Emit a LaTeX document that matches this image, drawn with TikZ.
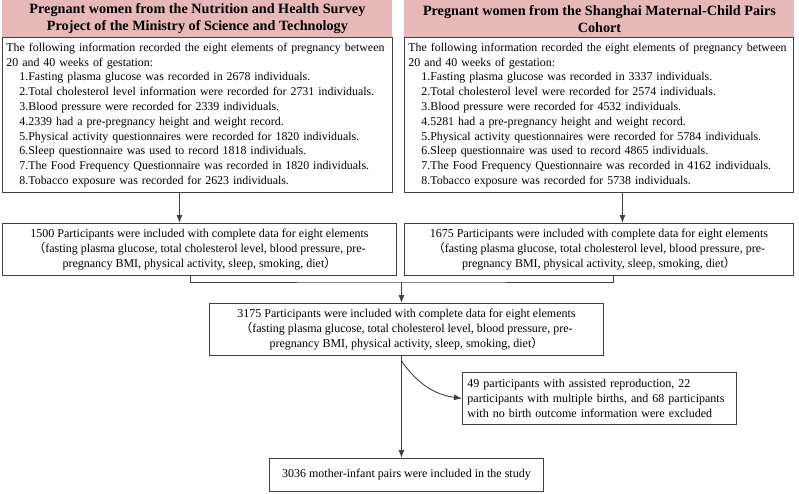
\documentclass[tikz,border=0pt]{standalone}
\usepackage{fontspec}
\setmainfont{Liberation Serif}
\newfontfamily\cjk{Noto Sans CJK SC}
\usetikzlibrary{arrows.meta, positioning}
\definecolor{headpink}{HTML}{E6B9B8}
\definecolor{boxline}{HTML}{404040}
\newcommand{\lpar}{{\cjk （}}
\newcommand{\rpar}{{\cjk ）}}
\newcommand{\itm}{\hspace*{13pt}}

\begin{document}
\begin{tikzpicture}[x=1pt, y=-1pt,
			>={Latex[length=8pt, width=6pt]},
			line width=0.9pt,
			box/.style={draw=boxline, rectangle, anchor=north west, inner sep=4pt},
			head/.style={fill=headpink, anchor=north west, align=center, inner sep=0pt,
				minimum width=390pt, minimum height=37pt,
				font=\bfseries\fontsize{14.2}{17}\selectfont},
			info/.style={box, align=left, inner ysep=2pt, inner xsep=4pt, text width=382pt,
				minimum width=390pt, minimum height=155pt, font=\fontsize{11.9}{14.8}\selectfont},
			incl/.style={box, align=center, minimum height=52pt,
				font=\fontsize{12}{15}\selectfont},
			conn/.style={draw=boxline}]
			
			\useasboundingbox (0,0) rectangle (799,493);
			
			% two source cohorts
			\node[head] (headL) at (2,0) {Pregnant women from the Nutrition and Health Survey\\Project of the Ministry of Science and Technology};
			\node[info] (infoL) at (2,37) {\mbox{The following information recorded the eight elements of pregnancy between}\\
				20 and 40 weeks of gestation:\\
				\itm 1.Fasting plasma glucose was recorded in 2678 individuals.\\
				\itm 2.Total cholesterol level information were recorded for 2731 individuals.\\
				\itm 3.Blood pressure were recorded for 2339 individuals.\\
				\itm 4.2339 had a pre-pregnancy height and weight record.\\
				\itm 5.Physical activity questionnaires were recorded for 1820 individuals.\\
				\itm 6.Sleep questionnaire was used to record 1818 individuals.\\
				\itm 7.The Food Frequency Questionnaire was recorded in 1820 individuals.\\
				\itm 8.Tobacco exposure was recorded for 2623 individuals.};
			
			\node[head] (headR) at (404,0) {Pregnant women from the Shanghai Maternal-Child Pairs\\Cohort};
			\node[info, minimum width=389pt, text width=381pt] (infoR) at (404,37) {\mbox{The following information recorded the eight elements of pregnancy between}\\
				20 and 40 weeks of gestation:\\
				\itm 1.Fasting plasma glucose was recorded in 3337 individuals.\\
				\itm 2.Total cholesterol level were recorded for 2574 individuals.\\
				\itm 3.Blood pressure were recorded for 4532 individuals.\\
				\itm 4.5281 had a pre-pregnancy height and weight record.\\
				\itm 5.Physical activity questionnaires were recorded for 5784 individuals.\\
				\itm 6.Sleep questionnaire was used to record 4865 individuals.\\
				\itm 7.The Food Frequency Questionnaire was recorded in 4162 individuals.\\
				\itm 8.Tobacco exposure was recorded for 5738 individuals.};
			
			% complete data
			\node[incl, minimum width=394pt] (inclL) at (2,223) {1500 Participants were included with complete data for eight elements\\
				\lpar fasting plasma glucose, total cholesterol level, blood pressure, pre-\\
				pregnancy BMI, physical activity, sleep, smoking, diet\rpar};
			\node[incl, minimum width=389pt] (inclR) at (404,223) {1675 Participants were included with complete data for eight elements\\
				\lpar fasting plasma glucose, total cholesterol level, blood pressure, pre-\\
				pregnancy BMI, physical activity, sleep, smoking, diet\rpar};
			\node[incl, minimum width=394pt] (merged) at (209,303) {3175 Participants were included with complete data for eight elements\\
				\lpar fasting plasma glucose, total cholesterol level, blood pressure, pre-\\
				pregnancy BMI, physical activity, sleep, smoking, diet\rpar};
			
			% exclusion and final sample
			\node[incl, align=left, inner xsep=5pt, text width=264pt, minimum width=274pt] (excl) at (462,372) {49 participants with assisted reproduction, 22\\
				participants with multiple births, and 68 participants\\
				with no birth outcome information were excluded};
			\node[incl, minimum width=274pt, minimum height=33pt] (final) at (269,458) {3036 mother-infant pairs were included in the study};
			
			\coordinate (dL) at ([xshift=-18pt]infoL.south);
			\coordinate (dR) at ([xshift=23.5pt]infoR.south);
			\coordinate (jL) at ([xshift=-9pt]inclL.south);
			\coordinate (jR) at ([xshift=14.5pt]inclR.south);
			\coordinate (jM) at ([xshift=-5pt, yshift=21pt]merged.north);
			\coordinate (sM) at ([xshift=-5pt]merged.south);
			\coordinate (bend) at ([xshift=-5pt, yshift=-5pt]merged.south);
			
			\draw[conn, ->] (dL) -- (dL |- inclL.north);
			\draw[conn, ->] (dR) -- (dR |- inclR.north);
			\draw[conn] (jL) |- (jM) -| (jR);
			\draw[conn, ->] (jM) -- (jM |- merged.north);
			\draw[conn, ->] (sM) -- (sM |- final.north);
			\draw[conn, ->] (bend) to[out=-55, in=172] (excl.west);
		\end{tikzpicture}
\end{document}
